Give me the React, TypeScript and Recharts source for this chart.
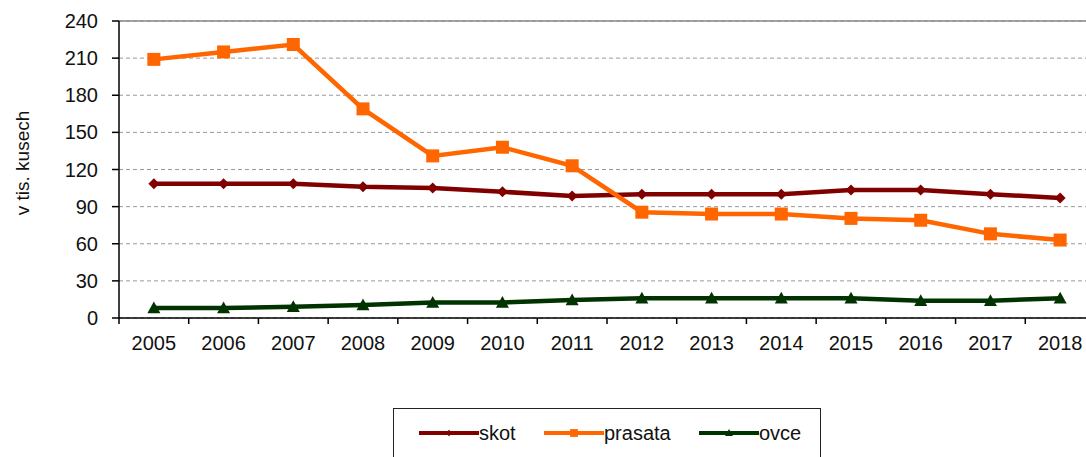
import React from "react";
import {
  CartesianGrid,
  Line,
  LineChart,
  ReferenceLine,
  XAxis,
  YAxis,
} from "recharts";

const years = ["2005", "2006", "2007", "2008", "2009", "2010", "2011", "2012", "2013", "2014", "2015", "2016", "2017", "2018"];
const skot = [108.5, 108.5, 108.5, 106, 105, 102, 98.5, 100, 100, 100, 103.5, 103.5, 100, 97];
const prasata = [209, 215, 221, 169, 131, 138, 123, 85.5, 84, 84, 80.5, 79, 68, 63];
const ovce = [8, 8, 9, 10.5, 12.5, 12.5, 14.5, 16, 16, 16, 16, 14, 14, 16];
const yTicks = [0, 30, 60, 90, 120, 150, 180, 210, 240];

const FONT = "'Liberation Sans', Arial, sans-serif";
const W = 1100;
const H = 457;
const MARGIN = { top: 21, right: 5, bottom: 99, left: 0 };
const Y_AXIS_W = 119;
const X_AXIS_H = 40;
const PLOT_W = W - MARGIN.left - MARGIN.right - Y_AXIS_W;
const BAND = PLOT_W / years.length;

const series = [
  { key: "skot", name: "skot", color: "#800000", shape: "diamond" },
  { key: "prasata", name: "prasata", color: "#FF6600", shape: "square" },
  { key: "ovce", name: "ovce", color: "#003300", shape: "triangle" },
];

const data = years.map((year, i) => ({
  year,
  skot: skot[i],
  prasata: prasata[i],
  ovce: ovce[i],
}));

function Marker({ cx, cy, shape, color, size = 1 }: any) {
  if (cx == null || cy == null) return null;
  if (shape === "diamond") {
    const r = 5.5 * size;
    return <path d={`M${cx},${cy - r}L${cx + r},${cy}L${cx},${cy + r}L${cx - r},${cy}Z`} fill={color} />;
  }
  if (shape === "square") {
    const r = 6.5 * size;
    return <rect x={cx - r} y={cy - r} width={2 * r} height={2 * r} fill={color} />;
  }
  const r = 6.5 * size;
  return <path d={`M${cx},${cy - r}L${cx + r},${cy + r * 0.8}L${cx - r},${cy + r * 0.8}Z`} fill={color} />;
}

function makeDot(shape: string, color: string) {
  return (props: any) => (
    <Marker key={`${shape}-${props.index}`} cx={props.cx} cy={props.cy} shape={shape} color={color} />
  );
}

function XTick({ x, payload }: any) {
  const axisY = H - MARGIN.bottom - X_AXIS_H;
  const left = x - BAND / 2;
  return (
    <g>
      <line x1={left} x2={left} y1={axisY} y2={axisY + 6} stroke="#000" strokeWidth={1.5} />
      <text x={x} y={axisY + 32} textAnchor="middle" fontSize={20} fontFamily={FONT} fill="#111">
        {payload.value}
      </text>
    </g>
  );
}

function YLabel() {
  const cx = 22;
  const cy = 163;
  return (
    <text
      x={cx}
      y={cy}
      transform={`rotate(-90 ${cx} ${cy})`}
      textAnchor="middle"
      dominantBaseline="central"
      fontSize={19}
      fontFamily={FONT}
      fill="#111"
    >
      v tis. kusech
    </text>
  );
}

function LegendBox() {
  return (
    <div
      style={{
        position: "absolute",
        left: 393,
        top: 408,
        width: 428,
        height: 70,
        border: "1.5px solid #222",
        boxSizing: "border-box",
        background: "#fff",
        fontFamily: FONT,
        fontSize: 20,
        color: "#111",
      }}
    >
      {series.map((s, i) => (
        <div
          key={s.key}
          style={{
            position: "absolute",
            left: [25, 150, 305][i],
            top: 12,
            display: "flex",
            alignItems: "center",
            height: 24,
          }}
        >
          <svg width={60} height={16}>
            <line x1={0} x2={60} y1={8} y2={8} stroke={s.color} strokeWidth={4} strokeLinecap="round" />
            <Marker cx={30} cy={8} shape={s.shape} color={s.color} size={0.6} />
          </svg>
          <span>{s.name}</span>
        </div>
      ))}
    </div>
  );
}

export default function App() {
  return (
    <div
      style={{
        position: "absolute",
        left: 0,
        top: 0,
        width: 1086,
        height: 457,
        overflow: "hidden",
        background: "#fff",
      }}
    >
      <LineChart width={W} height={H} data={data} margin={MARGIN}>
        <CartesianGrid vertical={false} stroke="#999" strokeDasharray="4 3" />
        <ReferenceLine y={240} stroke="#888" strokeWidth={1.5} />
        <XAxis
          dataKey="year"
          scale="band"
          height={X_AXIS_H}
          axisLine={{ stroke: "#000", strokeWidth: 1.5 }}
          tickLine={false}
          tick={<XTick />}
          interval={0}
        />
        <YAxis
          width={Y_AXIS_W}
          domain={[0, 240]}
          ticks={yTicks}
          interval={0}
          axisLine={{ stroke: "#000", strokeWidth: 1.5 }}
          tickLine={{ stroke: "#000", strokeWidth: 1.5 }}
          tickSize={7}
          tickMargin={14}
          tick={{ fontSize: 20, fontFamily: FONT, fill: "#111" }}
          label={<YLabel />}
        />
        {series.map((s) => (
          <Line
            key={s.key}
            dataKey={s.key}
            name={s.name}
            type="linear"
            stroke={s.color}
            strokeWidth={4.5}
            dot={makeDot(s.shape, s.color)}
            activeDot={false}
            isAnimationActive={false}
          />
        ))}
      </LineChart>
      <LegendBox />
    </div>
  );
}
